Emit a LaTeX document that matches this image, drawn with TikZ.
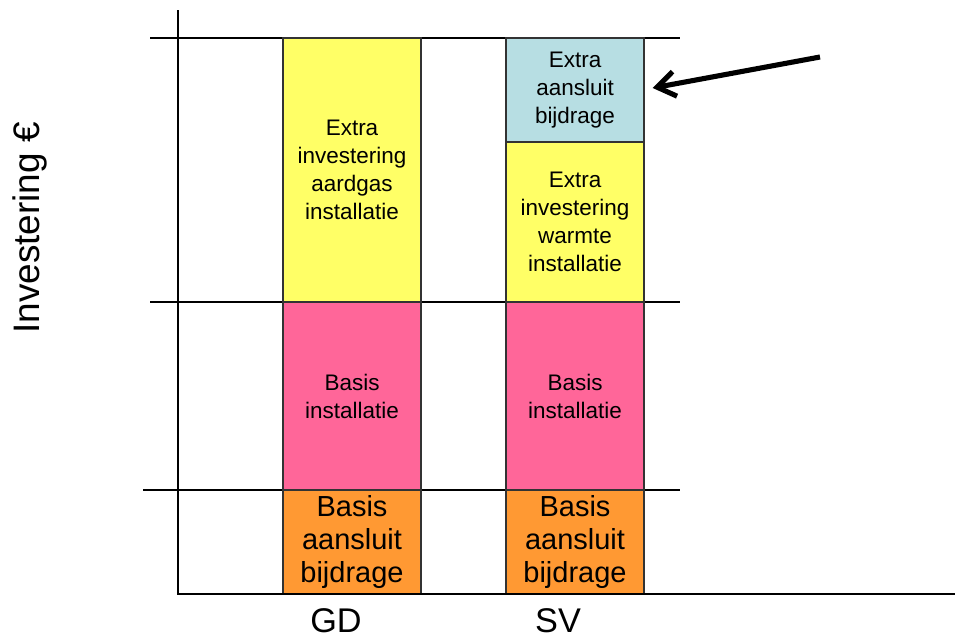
\documentclass[tikz,border=0pt]{standalone}
\usepackage{fontspec}
\setmainfont{Liberation Sans}
\usetikzlibrary{arrows.meta,positioning,calc}
\definecolor{stYellow}{HTML}{FFFF66}
\definecolor{stPink}{HTML}{FF6699}
\definecolor{stOrange}{HTML}{FF9933}
\definecolor{stBlue}{HTML}{B7DEE3}
\begin{document}
\begin{tikzpicture}[
  x=0.02cm, y=-0.02cm,
  bar/.style={draw=black!80,line width=0.8pt,align=center,inner sep=2pt,
              minimum width=2.76cm,font=\fontsize{12.8}{15.9}\selectfont},
  extra/.style={bar,fill=stYellow},
  basis/.style={bar,fill=stPink,minimum height=3.76cm},
  aansl/.style={bar,fill=stOrange,minimum height=2.08cm,font=\fontsize{16.5}{18.7}\selectfont},
  extaansl/.style={bar,fill=stBlue,minimum height=2.08cm},
  grid/.style={line width=1pt,black},
  axis/.style={line width=0.9pt,black},
  cat/.style={font=\fontsize{19.5}{23}\selectfont,inner sep=0pt},
]
\useasboundingbox (0,0) rectangle (955,639);
% grid lines behind the bars
\draw[grid] (150,38) -- (680,38);
\draw[grid] (150,302) -- (680,302);
\draw[grid] (143,490) -- (680,490);
% GD column
\node[extra,minimum height=5.28cm] (gdextra) at (352,170) {Extra\\investering\\aardgas\\installatie};
\node[basis] (gdbasis) at (352,396) {Basis\\installatie};
\node[aansl] (gdaansl) at (352,542) {Basis\\aansluit\\bijdrage};
% SV column
\node[extaansl] (svextra) at (575,90) {Extra\\aansluit\\bijdrage};
\node[extra,minimum height=3.2cm] (svwarmte) at (575,222) {Extra\\investering\\warmte\\installatie};
\node[basis] (svbasis) at (575,396) {Basis\\installatie};
\node[aansl] (svaansl) at (575,542) {Basis\\aansluit\\bijdrage};
% axes
\draw[axis] (178,10) -- (178,594) -- (955,594);
\node[cat,anchor=base] (gd) at (336,632) {GD};
\node[cat,anchor=base] (sv) at (558,632) {SV};
\node[rotate=90,font=\fontsize{21}{24}\selectfont] (ylabel) at (30,228) {Investering €};
% arrow to the extra connection fee
\coordinate (arrowtail) at (820,57);
\draw[-{Straight Barb[length=3.6mm,width=5mm]},line width=2.9pt] (arrowtail) -- ($(svextra.east)+(8,-2)$);
\end{tikzpicture}
\end{document}
